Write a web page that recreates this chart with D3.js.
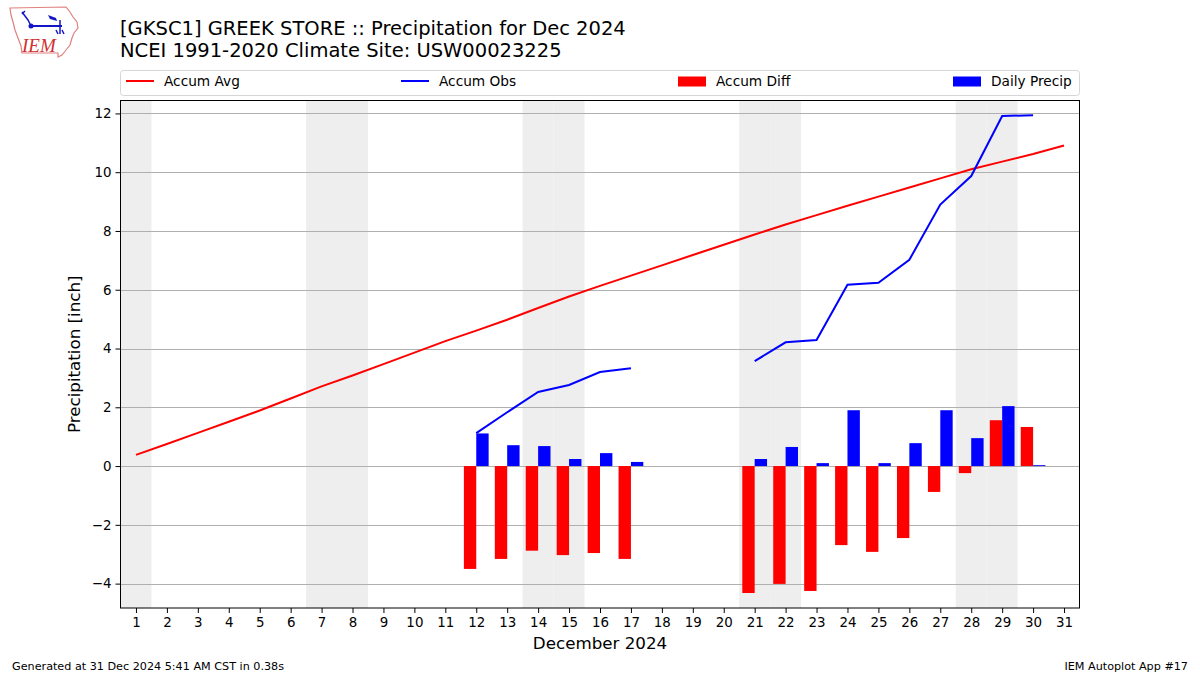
<!DOCTYPE html>
<html>
<head>
<meta charset="utf-8">
<script src="https://cdn.jsdelivr.net/npm/d3@7"></script>
<style>
  html, body { margin: 0; padding: 0; background: #fff; }
  svg { display: block; font-family: "DejaVu Sans", sans-serif; }
</style>
</head>
<body>
<svg id="chart" width="1200" height="675"></svg>
<script>
// ---------------- data ----------------
const days = d3.range(1, 32);
const accumAvg = [0.38, 0.75, 1.13, 1.51, 1.89, 2.30, 2.71, 3.08, 3.47, 3.86, 4.25, 4.61, 4.98, 5.38, 5.77, 6.13,
                  6.48, 6.83, 7.18, 7.53, 7.88, 8.22, 8.54, 8.86, 9.17, 9.48, 9.79, 10.10, 10.36, 10.62, 10.91];
// observed accumulation (two segments, gap in between)
const obsDays1 = [12, 13, 14, 15, 16, 17];
const accumObs1 = [1.12, 1.83, 2.52, 2.76, 3.20, 3.33];
const obsDays2 = [21, 22, 23, 24, 25, 26, 27, 28, 29, 30];
const accumObs2 = [3.57, 4.21, 4.29, 6.17, 6.24, 7.02, 8.90, 9.87, 11.91, 11.94];
// accumulated difference bars
const diffDays = [12, 13, 14, 15, 16, 17, 21, 22, 23, 24, 25, 26, 27, 28, 29, 30];
const accumDiff = [-3.50, -3.16, -2.88, -3.03, -2.96, -3.16, -4.32, -4.01, -4.25, -2.69, -2.92, -2.45, -0.88, -0.24, 1.56, 1.33];
// daily precipitation bars
const dailyDays = [12, 13, 14, 15, 16, 17, 21, 22, 23, 24, 25, 26, 27, 28, 29, 30];
const dailyPrecip = [1.11, 0.71, 0.68, 0.24, 0.44, 0.14, 0.24, 0.65, 0.10, 1.90, 0.10, 0.78, 1.90, 0.95, 2.04, 0.03];
// weekend shading (Sat/Sun)
const weekendDays = [1, 7, 8, 14, 15, 21, 22, 28, 29];
const yTicks = [-4, -2, 0, 2, 4, 6, 8, 10, 12];

const titleLine1 = "[GKSC1] GREEK STORE :: Precipitation for Dec 2024";
const titleLine2 = "NCEI 1991-2020 Climate Site: USW00023225";
const legendLabels = ["Accum Avg", "Accum Obs", "Accum Diff", "Daily Precip"];

// ---------------- layout ----------------
const svg = d3.select("#chart");
const plot = { left: 120.5, right: 1079.5, top: 100.5, bottom: 608 };

const x = d3.scaleLinear().domain([0.5, 31.5]).range([plot.left, plot.right]);
const y = d3.scaleLinear().domain([-4.83, 12.44]).range([plot.bottom, plot.top]);

// weekend shading
svg.append("g").selectAll("rect").data(weekendDays).join("rect")
  .attr("x", d => x(d - 0.5)).attr("width", d => x(d + 0.5) - x(d - 0.5))
  .attr("y", plot.top).attr("height", plot.bottom - plot.top)
  .attr("fill", "#eeeeee");

// grid lines
svg.append("g").selectAll("line").data(yTicks).join("line")
  .attr("x1", plot.left).attr("x2", plot.right)
  .attr("y1", d => Math.round(y(d)) + 0.5).attr("y2", d => Math.round(y(d)) + 0.5)
  .attr("stroke", "#b0b0b0").attr("stroke-width", 1);

// bars
const barW = 0.4;
svg.append("g").selectAll("rect").data(diffDays.map((d, i) => [d, accumDiff[i]])).join("rect")
  .attr("x", d => x(d[0] - barW)).attr("width", d => x(d[0]) - x(d[0] - barW))
  .attr("y", d => y(Math.max(0, d[1]))).attr("height", d => Math.abs(y(d[1]) - y(0)))
  .attr("fill", "#ff0000");
svg.append("g").selectAll("rect").data(dailyDays.map((d, i) => [d, dailyPrecip[i]])).join("rect")
  .attr("x", d => x(d[0])).attr("width", d => x(d[0] + barW) - x(d[0]))
  .attr("y", d => y(Math.max(0, d[1]))).attr("height", d => Math.abs(y(d[1]) - y(0)))
  .attr("fill", "#0000ff");

// lines
const line = d3.line().x(d => x(d[0])).y(d => y(d[1]));
svg.append("path").datum(days.map((d, i) => [d, accumAvg[i]]))
  .attr("d", line).attr("fill", "none").attr("stroke", "#ff0000").attr("stroke-width", 2);
svg.append("path").datum(obsDays1.map((d, i) => [d, accumObs1[i]]))
  .attr("d", line).attr("fill", "none").attr("stroke", "#0000ff").attr("stroke-width", 2);
svg.append("path").datum(obsDays2.map((d, i) => [d, accumObs2[i]]))
  .attr("d", line).attr("fill", "none").attr("stroke", "#0000ff").attr("stroke-width", 2);

// axes
const xAxis = d3.axisBottom(x).tickValues(days).tickSize(5).tickPadding(4).tickFormat(d3.format("d"));
const gx = svg.append("g").attr("transform", `translate(0,${plot.bottom})`).call(xAxis);
const yAxis = d3.axisLeft(y).tickValues(yTicks).tickSize(5).tickPadding(4)
  .tickFormat(d => d < 0 ? "\u2212" + Math.abs(d) : d);
const gy = svg.append("g").attr("transform", `translate(${plot.left},0)`).call(yAxis);
[gx, gy].forEach(g => {
  g.select(".domain").remove();
  g.selectAll("text").attr("font-size", 13.4).attr("fill", "#000").attr("font-family", "DejaVu Sans");
  g.selectAll("line").attr("stroke", "#000");
});

// frame
svg.append("rect").attr("x", plot.left).attr("y", plot.top)
  .attr("width", plot.right - plot.left).attr("height", plot.bottom - plot.top)
  .attr("fill", "none").attr("stroke", "#000").attr("stroke-width", 1);

// axis labels
svg.append("text").attr("x", x(16)).attr("y", 649).attr("text-anchor", "middle")
  .attr("font-size", 16.7).text("December 2024");
svg.append("text").attr("transform", `translate(80,${(plot.top + plot.bottom) / 2}) rotate(-90)`)
  .attr("text-anchor", "middle").attr("font-size", 16.7).text("Precipitation [inch]");

// titles
svg.append("text").attr("x", 120).attr("y", 35).attr("font-size", 19.5).text(titleLine1);
svg.append("text").attr("x", 120).attr("y", 57).attr("font-size", 19.5).text(titleLine2);

// legend
svg.append("rect").attr("x", 120.5).attr("y", 70.5).attr("width", 959).attr("height", 25)
  .attr("rx", 3).attr("fill", "#fff").attr("stroke", "#d6d6d6");
const legX = [126, 401, 678, 953];
const lg = svg.append("g");
legendLabels.forEach((lab, i) => {
  if (i < 2) {
    lg.append("line").attr("x1", legX[i]).attr("x2", legX[i] + 28).attr("y1", 81).attr("y2", 81)
      .attr("stroke", i === 0 ? "#ff0000" : "#0000ff").attr("stroke-width", 2);
  } else {
    lg.append("rect").attr("x", legX[i]).attr("y", 76.5).attr("width", 28).attr("height", 10)
      .attr("fill", i === 2 ? "#ff0000" : "#0000ff");
  }
  lg.append("text").attr("x", legX[i] + 38).attr("y", 86).attr("font-size", 13.7).text(lab);
});

// footer
svg.append("text").attr("x", 12).attr("y", 670).attr("font-size", 11.2).text("Generated at 31 Dec 2024 5:41 AM CST in 0.38s");
svg.append("text").attr("x", 1188).attr("y", 670).attr("text-anchor", "end").attr("font-size", 11.2).text("IEM Autoplot App #17");

// logo (approximate)
const logo = svg.append("g");
logo.append("path")
  .attr("d", "M10,8 L66,7 L70,12 L73,17 L77,22 L78,28 L74,33 L72,38 L70,45 L66,50 L62,55 L58,57 L58,53 L22,53 L21,46 L18,38 L15,30 L13,22 L11,15 Z")
  .attr("fill", "#fff").attr("stroke", "#e08080").attr("stroke-width", 1.2);
logo.append("line").attr("x1", 30).attr("x2", 62).attr("y1", 26).attr("y2", 26).attr("stroke", "#1515c8").attr("stroke-width", 2);
logo.append("circle").attr("cx", 31).attr("cy", 26).attr("r", 2.5).attr("fill", "#1515c8");
logo.append("path").attr("d", "M22,12 L28,20 L30,24 M22,14 L25,11").attr("fill", "none").attr("stroke", "#1515c8").attr("stroke-width", 1.5);
logo.append("path").attr("d", "M48,15 L56,18 L57,21 L50,19 Z").attr("fill", "#1515c8");
logo.append("line").attr("x1", 60).attr("x2", 60).attr("y1", 20).attr("y2", 34).attr("stroke", "#1515c8").attr("stroke-width", 1.5);
logo.append("path").attr("d", "M56,30 L58,34 M62,30 L64,34").attr("stroke", "#1515c8").attr("stroke-width", 1.5);
logo.append("text").attr("x", 22).attr("y", 52).attr("font-family", "Liberation Serif, serif")
  .attr("font-style", "italic").attr("font-size", 19).attr("fill", "#d03030").text("IEM");
</script>
</body>
</html>
